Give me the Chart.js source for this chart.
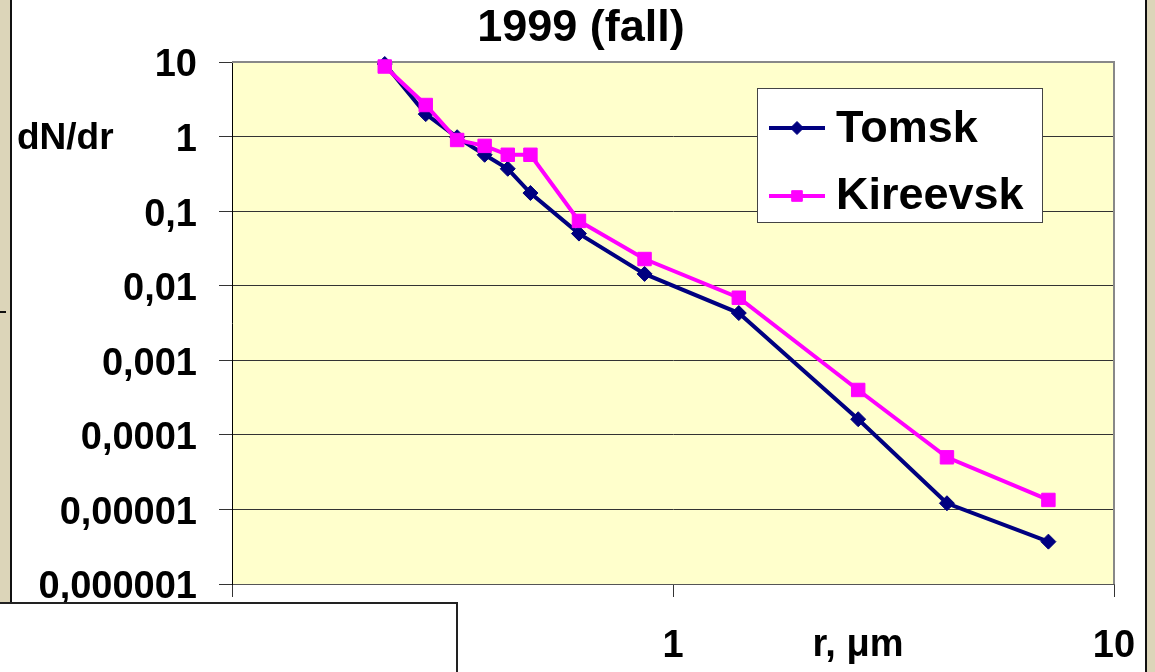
<!DOCTYPE html>
<html>
<head>
<meta charset="utf-8">
<title>1999 (fall)</title>
<script src="https://cdn.jsdelivr.net/npm/chart.js@4.4.1/dist/chart.umd.min.js"></script>
<style>
  html, body { margin: 0; padding: 0; background: #dcd5b9; }
  canvas { display: block; }
</style>
</head>
<body>
<canvas id="chart" width="1155" height="672"></canvas>
<script>
// particle radius, µm (shared by both sites)
const radii = [0.222, 0.275, 0.324, 0.374, 0.422, 0.475, 0.612, 0.862, 1.41, 2.63, 4.18, 7.10];
// dN/dr
const tomsk = [9.4, 2.0, 0.98, 0.57, 0.37, 0.175, 0.050, 0.0144, 0.0043, 0.000162, 0.0000121, 0.0000037];
const kireevsk = [8.7, 2.65, 0.9, 0.75, 0.57, 0.57, 0.074, 0.0228, 0.0069, 0.0004, 0.00005, 0.0000134];

const seriesNames = ["Tomsk", "Kireevsk"];
const xTickValues = [0.1, 1, 10];
const xTickLabels = ["0,1", "1", "10"];
const yTickValues = [0.000001, 0.00001, 0.0001, 0.001, 0.01, 0.1, 1, 10];
const yTickLabels = ["0,000001", "0,00001", "0,0001", "0,001", "0,01", "0,1", "1", "10"];
const titleText = "1999 (fall)";
const yTitle = "dN/dr";
const xTitle = "r, \u03bcm";

const FONT = "'Liberation Sans', Arial, sans-serif";
Chart.defaults.font.family = FONT;
Chart.defaults.color = "#000";

const toPoints = (ys) => radii.map((r, i) => ({ x: r, y: ys[i] }));

const decor = {
  id: "decor",
  beforeDraw(chart) {
    const { ctx, chartArea: a } = chart;
    ctx.save();
    ctx.fillStyle = "#dcd5b9";
    ctx.fillRect(0, 0, chart.width, chart.height);
    ctx.fillStyle = "#fff";
    ctx.fillRect(11, 0, 1135, chart.height);
    ctx.fillStyle = "#111";
    ctx.fillRect(10, 0, 2, chart.height);
    ctx.fillRect(1145, 0, 2, chart.height);
    ctx.fillRect(0, 311, 6, 2);
    ctx.fillStyle = "#ffffcc";
    ctx.fillRect(a.left, a.top, a.right - a.left, a.bottom - a.top);

    // title
    ctx.fillStyle = "#000";
    ctx.font = "bold 45px " + FONT;
    ctx.textAlign = "center";
    ctx.textBaseline = "middle";
    ctx.fillText(titleText, 581, 29);
    ctx.restore();
  },
  beforeDatasetsDraw(chart) {
    const { ctx, chartArea: a } = chart;
    ctx.save();
    ctx.strokeStyle = "#888";
    ctx.lineWidth = 2;
    ctx.beginPath();
    ctx.moveTo(a.left, a.top);
    ctx.lineTo(a.right, a.top);
    ctx.lineTo(a.right, a.bottom);
    ctx.stroke();
    ctx.restore();
  },
  afterDraw(chart) {
    const { ctx } = chart;
    ctx.save();

    // legend
    ctx.fillStyle = "#fff";
    ctx.fillRect(757, 88, 286, 135);
    ctx.strokeStyle = "#444";
    ctx.lineWidth = 1;
    ctx.strokeRect(757.5, 88.5, 285, 134);
    const rows = [128, 196];
    const bases = [142, 209];
    chart.data.datasets.slice().sort((p, q) => p.legendIndex - q.legendIndex).forEach((ds, i) => {
      ctx.strokeStyle = ds.borderColor;
      ctx.fillStyle = ds.backgroundColor;
      ctx.lineWidth = 4;
      ctx.beginPath();
      ctx.moveTo(769, rows[i]);
      ctx.lineTo(825, rows[i]);
      ctx.stroke();
      ctx.lineWidth = 1;
      Chart.helpers.drawPoint(ctx, {
        pointStyle: ds.pointStyle,
        radius: ds.pointStyle === "rect" ? 7.5 : 6.5,
        borderWidth: 1,
        rotation: 0
      }, 797, rows[i]);
      ctx.fillStyle = "#000";
      ctx.font = "bold 45px " + FONT;
      ctx.textAlign = "left";
      ctx.textBaseline = "alphabetic";
      ctx.fillText(ds.label, 836, bases[i]);
    });

    // axis captions
    ctx.fillStyle = "#000";
    ctx.font = "bold 37px " + FONT;
    ctx.textAlign = "left";
    ctx.textBaseline = "alphabetic";
    ctx.fillText(yTitle, 17, 149);
    ctx.font = "bold 38px " + FONT;
    ctx.textAlign = "center";
    ctx.textBaseline = "middle";
    ctx.fillText(xTitle, 858, 646);

    // white box at bottom-left
    ctx.fillStyle = "#fff";
    ctx.fillRect(0, 603, 457, 69);
    ctx.fillStyle = "#222";
    ctx.fillRect(0, 602, 458, 2);
    ctx.fillRect(456, 602, 2, 70);
    ctx.restore();
  }
};

new Chart(document.getElementById("chart"), {
  type: "scatter",
  data: {
    datasets: [
      {
        label: seriesNames[1],
        legendIndex: 1,
        data: toPoints(kireevsk),
        showLine: true,
        borderColor: "#ff00ff",
        backgroundColor: "#ff00ff",
        borderWidth: 4,
        pointStyle: "rect",
        pointRadius: 9.5,
        pointBorderWidth: 1,
        order: 0,
        clip: false
      },
      {
        label: seriesNames[0],
        legendIndex: 0,
        data: toPoints(tomsk),
        showLine: true,
        borderColor: "#000080",
        backgroundColor: "#000080",
        borderWidth: 4,
        pointStyle: "rectRot",
        pointRadius: 7.5,
        pointBorderWidth: 1,
        order: 1,
        clip: false
      }
    ]
  },
  options: {
    responsive: false,
    animation: false,
    layout: { padding: { left: 11, right: 41, top: 62, bottom: 0 } },
    plugins: {
      legend: { display: false },
      tooltip: { enabled: false },
      title: { display: false }
    },
    scales: {
      x: {
        type: "logarithmic",
        min: 0.1,
        max: 10,
        afterBuildTicks: (s) => { s.ticks = xTickValues.map((v) => ({ value: v })); },
        afterFit: (s) => { s.height = 88; s.paddingLeft = 0; s.paddingRight = 0; },
        ticks: {
          autoSkip: false,
          maxRotation: 0,
          padding: 27,
          font: { size: 38, weight: "bold" },
          callback: (v) => xTickLabels[xTickValues.indexOf(v)]
        },
        grid: {
          drawOnChartArea: false,
          drawTicks: true,
          tickLength: 13,
          color: "#333",
          lineWidth: 1
        },
        border: { display: true, color: "#555", width: 1 }
      },
      y: {
        type: "logarithmic",
        min: 0.000001,
        max: 10,
        afterBuildTicks: (s) => { s.ticks = yTickValues.map((v) => ({ value: v })); },
        afterFit: (s) => { s.width = 221; s.paddingTop = 0; s.paddingBottom = 0; },
        ticks: {
          autoSkip: false,
          padding: 22,
          labelOffset: 4,
          font: { size: 38, weight: "bold" },
          callback: (v) => yTickLabels[yTickValues.indexOf(v)]
        },
        grid: {
          drawTicks: true,
          tickLength: 13,
          color: "#333",
          lineWidth: 1
        },
        border: { display: true, color: "#000", width: 1 }
      }
    }
  },
  plugins: [decor]
});
</script>
</body>
</html>
